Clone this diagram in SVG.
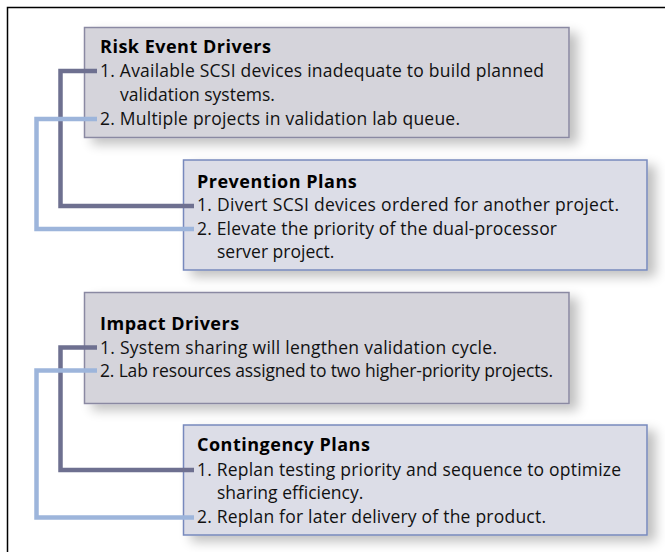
<svg xmlns="http://www.w3.org/2000/svg" width="665" height="552" viewBox="0 0 665 552">
<style>
  .t { font-family: "Open Sans", "Noto Sans", "Liberation Sans", sans-serif; font-size: 17.5px; fill: #111; }
  .h { font-family: "Open Sans", "Noto Sans", "Liberation Sans", sans-serif; font-size: 18px; font-weight: bold; letter-spacing: 0.5px; fill: #000; }
  .gray { fill: #d5d4db; stroke: #8a89a2; stroke-width: 1.5; }
  .blue { fill: #dcdde7; stroke: #7789bd; stroke-width: 1.5; }
  .dk { fill: none; stroke: #6e7090; stroke-width: 4.5; }
  .lt { fill: none; stroke: #9db5db; stroke-width: 4.5; }
</style>
<defs>
  <filter id="sh" x="-10%" y="-20%" width="130%" height="150%">
    <feGaussianBlur in="SourceAlpha" stdDeviation="6"/>
    <feOffset dx="8" dy="6" result="b"/>
    <feComponentTransfer><feFuncA type="linear" slope="0.25"/></feComponentTransfer>
    <feMerge><feMergeNode/><feMergeNode in="SourceGraphic"/></feMerge>
  </filter>
</defs>
<rect width="665" height="552" fill="#fff"/>
<path d="M7.5 552 V7.5 H665" fill="none" stroke="#000" stroke-width="1.5"/>

<g id="risk-event-drivers">
  <rect class="gray" x="84.5" y="27.5" width="484.5" height="110" filter="url(#sh)"/>
  <text class="h" x="100" y="53">Risk Event Drivers</text>
  <text class="t" x="100" y="76.5" textLength="444">1. Available SCSI devices inadequate to build planned</text>
  <text class="t" x="120" y="100.5">validation systems.</text>
  <text class="t" x="100" y="124.5" textLength="360">2. Multiple projects in validation lab queue.</text>
</g>

<g id="prevention-plans">
  <rect class="blue" x="183.5" y="160" width="463.5" height="110" filter="url(#sh)"/>
  <text class="h" x="197" y="187.5">Prevention Plans</text>
  <text class="t" x="197" y="211" textLength="422">1. Divert SCSI devices ordered for another project.</text>
  <text class="t" x="197" y="234.5" textLength="360">2. Elevate the priority of the dual-processor</text>
  <text class="t" x="217" y="258">server project.</text>
</g>

<g id="impact-drivers">
  <rect class="gray" x="84.5" y="292.5" width="484.5" height="111" filter="url(#sh)"/>
  <text class="h" x="100" y="330">Impact Drivers</text>
  <text class="t" x="100" y="353.5" textLength="397">1. System sharing will lengthen validation cycle.</text>
  <text class="t" x="100" y="376.5" textLength="453">2. Lab resources assigned to two higher-priority projects.</text>
</g>

<g id="contingency-plans">
  <rect class="blue" x="183.5" y="425" width="463.5" height="110" filter="url(#sh)"/>
  <text class="h" x="197" y="451">Contingency Plans</text>
  <text class="t" x="197" y="475.5" textLength="424">1. Replan testing priority and sequence to optimize</text>
  <text class="t" x="217" y="499">sharing efficiency.</text>
  <text class="t" x="197" y="522.5" textLength="349">2. Replan for later delivery of the product.</text>
</g>

<g id="connectors">
  <path class="dk" d="M97 71 H60.5 V206 H194"/>
  <path class="lt" d="M97 119 H36.5 V229 H194"/>
  <path class="dk" d="M97 347.5 H60.5 V470 H194"/>
  <path class="lt" d="M97 370.5 H36.5 V517.5 H194"/>
</g>
</svg>
